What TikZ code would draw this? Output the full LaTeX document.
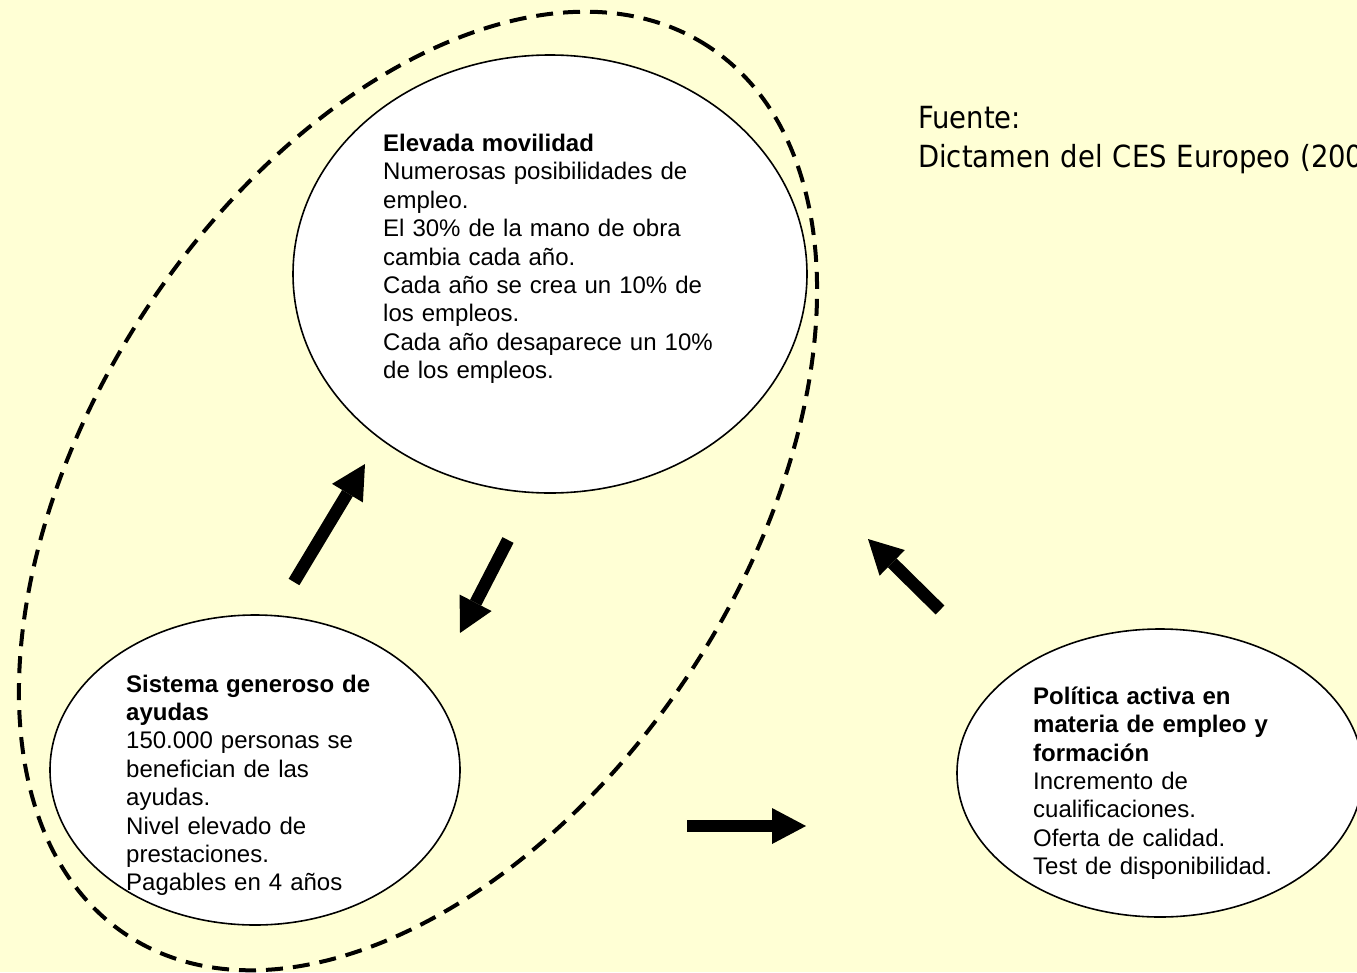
\documentclass[tikz,border=0pt]{standalone}
\usepackage{fontspec}
\setmainfont{Liberation Sans}
\newfontfamily\fuentefont{DejaVu Sans Condensed}
\usetikzlibrary{shapes.geometric,arrows.meta}
\definecolor{bgyellow}{RGB}{255,255,213}
\begin{document}
\begin{tikzpicture}[x=1pt,y=-1pt,
  bubble/.style={ellipse, draw=black, line width=1.6pt, fill=white, inner sep=0pt},
  groupring/.style={ellipse, draw=black, line width=4pt, dash pattern=on 17pt off 10pt, inner sep=0pt},
  txt/.style={anchor=base west, inner sep=0pt, text width=420pt, align=left,
              font=\fontsize{24}{28.4}\selectfont},
  blockarrow/.style={line width=12.5pt, -{Triangle[width=36pt,length=34pt,line width=0pt]}},
]
\useasboundingbox (0,0) rectangle (1357,972);
\clip (0,0) rectangle (1357,972);
\fill[bgyellow] (0,0) rectangle (1357,972);

% dashed grouping ellipse
\node[groupring, rotate=56.85, minimum width=1062pt, minimum height=654pt] (grupo) at (418,491) {};

% bubbles
\node[bubble, minimum width=514pt, minimum height=438pt] (movil) at (550,274) {};
\node[bubble, minimum width=410pt, minimum height=310pt] (ayudas) at (255,770) {};
\node[bubble, minimum width=406pt, minimum height=288pt] (politica) at (1160,773) {};

% texts
\node[txt] (moviltxt) at (383,151.5) {\textbf{Elevada movilidad}\\Numerosas posibilidades de\\empleo.\\El 30\% de la mano de obra\\cambia cada año.\\Cada año se crea un 10\% de\\los empleos.\\Cada año desaparece un 10\%\\de los empleos.};
\node[txt] (ayudastxt) at (126,692) {\textbf{Sistema generoso de}\\\textbf{ayudas}\\150.000 personas se\\benefician de las\\ayudas.\\Nivel elevado de\\prestaciones.\\Pagables en 4 años};
\node[txt] (politicatxt) at (1033,704.3) {\textbf{Política activa en}\\\textbf{materia de empleo y}\\\textbf{formación}\\Incremento de\\cualificaciones.\\Oferta de calidad.\\Test de disponibilidad.};
\node[anchor=base west, inner sep=0pt, text width=600pt, align=left,
      font=\fuentefont\fontsize{30.5}{39}\selectfont] (fuente) at (918,128) {Fuente:\\Dictamen del CES Europeo (200};

% block arrows
\coordinate (a1s) at (294,582); \coordinate (a1e) at (365,464);
\coordinate (a2s) at (508,540); \coordinate (a2e) at (460,633);
\coordinate (a3s) at (940,610); \coordinate (a3e) at (868,539);
\coordinate (a4s) at (687,826); \coordinate (a4e) at (806,826);
\draw[blockarrow] (a1s) -- (a1e);
\draw[blockarrow] (a2s) -- (a2e);
\draw[blockarrow] (a3s) -- (a3e);
\draw[blockarrow] (a4s) -- (a4e);
\end{tikzpicture}
\end{document}
